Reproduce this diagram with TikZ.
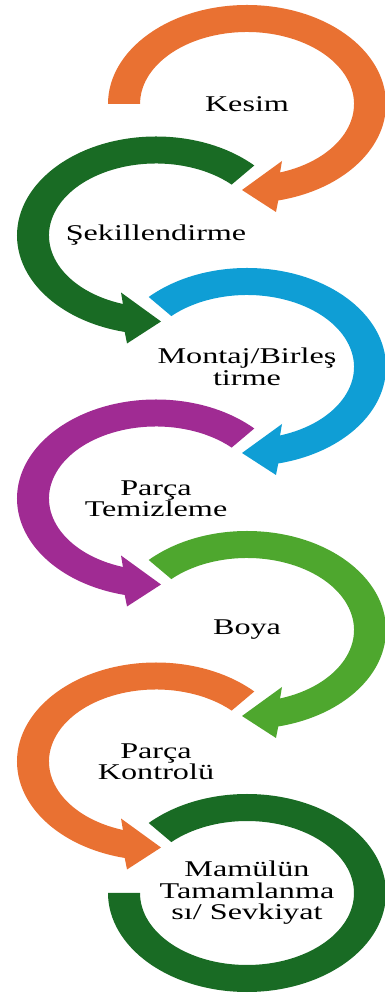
\documentclass[tikz,border=0pt]{standalone}
\usepackage{fontspec}
\setmainfont{Liberation Serif}
\newfontfamily\stepfont[FakeStretch=1.43]{Liberation Serif}
\usepackage{tikz}
\usetikzlibrary{positioning}

\definecolor{ringorange}{HTML}{E97132}
\definecolor{ringgreen}{HTML}{196B24}
\definecolor{ringblue}{HTML}{0F9ED5}
\definecolor{ringpurple}{HTML}{A02B93}
\definecolor{ringlime}{HTML}{4EA72E}

% ring with arrow head: node, colour, start angle, side (1 right, -1 left)
\newcommand{\ringarrow}[4]{
	\fill[#2,shift={(#1.center)},xscale=#4] (#3:139pt and 99pt)
		arc[start angle=#3,end angle=-77,x radius=139pt,y radius=99pt]
		-- (29,-108) -- (-5,-86) -- (35,-57) -- (-72:107pt and 72pt)
		arc[start angle=-72,end angle=#3,x radius=107pt,y radius=72pt] -- cycle;
}

\begin{document}
\begin{tikzpicture}[x=1pt,y=1pt,on grid,
						steptext/.style={align=center,inner sep=0pt,text=black,font={\stepfont\fontsize{22.5}{21.5}\selectfont}}]
		\useasboundingbox (0,0) rectangle (385,994);
		\node[steptext] (kesim) at (247,890) {Kesim};
		\node[steptext,below left=131.5pt and 91pt of kesim] (sekil) {Şekillendirme};
		\node[steptext,below right=131.5pt and 91pt of sekil] (montaj) {Montaj/Birleş\\tirme};
		\node[steptext,below left=131.5pt and 91pt of montaj] (temiz) {Parça\\Temizleme};
		\node[steptext,below right=131.5pt and 91pt of temiz] (boya) {Boya};
		\node[steptext,below left=131.5pt and 91pt of boya] (kontrol) {Parça\\Kontrolü};
		\node[steptext,below right=131.5pt and 91pt of kontrol] (mamul) {Mamülün\\Tamamlanma\\sı/ Sevkiyat};

		\ringarrow{kesim}{ringorange}{180}{1}
		\ringarrow{sekil}{ringgreen}{135}{-1}
		\ringarrow{montaj}{ringblue}{135}{1}
		\ringarrow{temiz}{ringpurple}{135}{-1}
		\ringarrow{boya}{ringlime}{135}{1}
		\ringarrow{kontrol}{ringorange}{135}{-1}
		\fill[ringgreen,shift={(mamul.center)}] (135:139pt and 99pt)
			arc[start angle=135,end angle=-180,x radius=139pt,y radius=99pt]
			-- (-180:107pt and 72pt)
			arc[start angle=-180,end angle=135,x radius=107pt,y radius=72pt] -- cycle;
	\end{tikzpicture}
\end{document}
